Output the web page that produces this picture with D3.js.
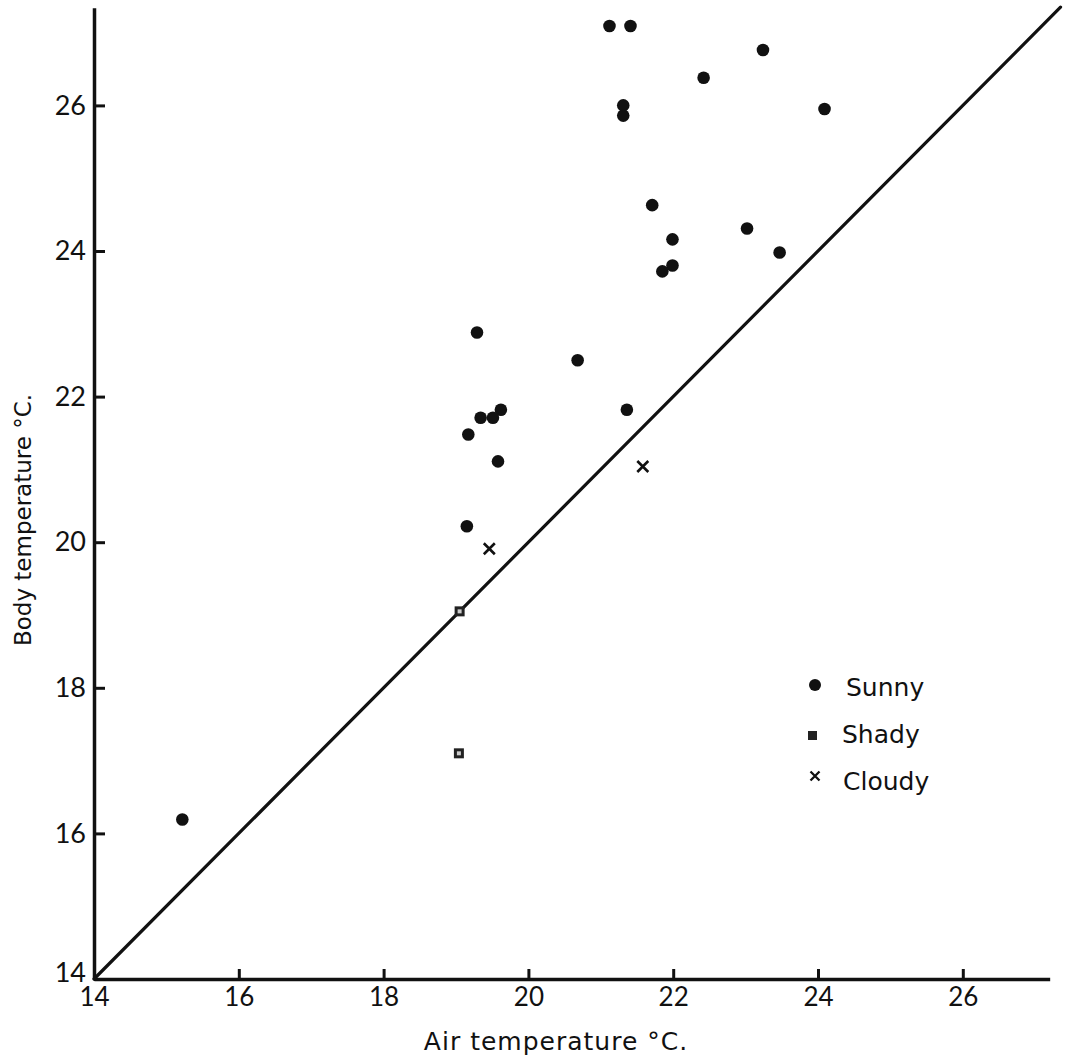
<!DOCTYPE html>
<html>
<head>
<meta charset="utf-8">
<script src="https://cdn.jsdelivr.net/npm/d3@7"></script>
<style>
  body { margin: 0; background: #fff; }
  svg text { font-family: Lato, "Noto Sans", sans-serif; fill: #111; }
  svg text.title { font-family: "DejaVu Sans", sans-serif; }
  .axis path, .axis line { stroke: #111; }
</style>
</head>
<body>
<div id="chart"></div>
<script>
// readings (air temp, body temp) per weather condition
const sunnyAir  = [21.12, 21.41, 22.42, 23.24, 21.31, 21.31, 24.09, 21.71, 21.99, 21.99, 21.85, 23.02, 23.47, 19.29, 20.68, 19.62, 19.51, 19.34, 21.36, 19.17, 19.58, 19.15, 15.22];
const sunnyBody = [27.09, 27.09, 26.38, 26.76, 26.00, 25.86, 25.95, 24.63, 24.16, 23.80, 23.72, 24.31, 23.98, 22.88, 22.50, 21.82, 21.71, 21.71, 21.82, 21.48, 21.11, 20.22, 16.19];
const shadyAir  = [19.05, 19.04];
const shadyBody = [19.05, 17.10];
const cloudyAir  = [19.46, 21.58];
const cloudyBody = [19.91, 21.04];

const xTicks = [14, 16, 18, 20, 22, 24, 26];
const yTicks = [14, 16, 18, 20, 22, 24, 26];
const equalLine = [14, 27.35];
const legendLabels = ["Sunny", "Shady", "Cloudy"];

const width = 1071, height = 1060;

const svg = d3.select("#chart")
    .append("svg")
    .attr("width", width)
    .attr("height", height);

const x = d3.scaleLinear()
    .domain([14, 27.2])
    .range([94, 94 + 13.2 * 72.4]);

const y = d3.scaleLinear()
    .domain([14, 27.34])
    .range([979, 979 - 13.34 * 72.8]);

// axes, ticks point inward
svg.append("g")
    .attr("class", "axis")
    .attr("transform", "translate(0," + y(14) + ")")
    .call(d3.axisBottom(x)
        .tickValues(xTicks)
        .tickSizeInner(-10)
        .tickSizeOuter(0)
        .tickPadding(9)
        .tickFormat(d3.format("d")))
    .call(g => g.select(".domain").attr("stroke-width", 3.5))
    .call(g => g.selectAll(".tick line").attr("stroke-width", 3))
    .call(g => g.selectAll(".tick text").attr("font-size", 26).attr("fill", "#111"));

svg.append("g")
    .attr("class", "axis")
    .attr("transform", "translate(" + x(14) + ",0)")
    .call(d3.axisLeft(y)
        .tickValues(yTicks)
        .tickSizeInner(-11)
        .tickSizeOuter(0)
        .tickPadding(8)
        .tickFormat(d3.format("d")))
    .call(g => g.select(".domain").attr("stroke-width", 3.5))
    .call(g => g.selectAll(".tick line").attr("stroke-width", 3))
    .call(g => g.selectAll(".tick text").attr("font-size", 27).attr("fill", "#111"))
    .call(g => g.selectAll(".tick").filter(d => d === 14).select("text").attr("dy", "0.1em"));

// axis titles
svg.append("text")
    .attr("class", "title")
    .attr("x", 556)
    .attr("y", 1050)
    .attr("text-anchor", "middle")
    .attr("font-size", 25)
    .attr("letter-spacing", 1)
    .text("Air temperature \u00B0C.");

svg.append("text")
    .attr("class", "title")
    .attr("transform", "translate(31,520) rotate(-90)")
    .attr("text-anchor", "middle")
    .attr("font-size", 23)
    .text("Body temperature \u00B0C.");

// line of equality
svg.append("line")
    .attr("x1", x(equalLine[0]))
    .attr("y1", y(equalLine[0]))
    .attr("x2", x(equalLine[1]))
    .attr("y2", y(equalLine[1]))
    .attr("stroke", "#111")
    .attr("stroke-width", 3.2)
    .attr("stroke-linecap", "round");

const sunny = sunnyAir.map((d, i) => ({ air: d, body: sunnyBody[i] }));
const shady = shadyAir.map((d, i) => ({ air: d, body: shadyBody[i] }));
const cloudy = cloudyAir.map((d, i) => ({ air: d, body: cloudyBody[i] }));

svg.append("g")
    .selectAll("circle")
    .data(sunny)
    .enter()
    .append("circle")
    .attr("cx", d => x(d.air))
    .attr("cy", d => y(d.body))
    .attr("r", 6.3)
    .attr("fill", "#111");

const shadyG = svg.append("g")
    .selectAll("g")
    .data(shady)
    .enter()
    .append("g")
    .attr("transform", d => "translate(" + x(d.air) + "," + y(d.body) + ")");
shadyG.append("rect")
    .attr("x", -5).attr("y", -5)
    .attr("width", 10).attr("height", 10)
    .attr("fill", "#222");
shadyG.append("rect")
    .attr("x", -2).attr("y", -2)
    .attr("width", 4).attr("height", 4)
    .attr("fill", "#ccc");

const cross = (s) => "M" + (-s) + "," + (-s) + "L" + s + "," + s + "M" + (-s) + "," + s + "L" + s + "," + (-s);

svg.append("g")
    .selectAll("path")
    .data(cloudy)
    .enter()
    .append("path")
    .attr("transform", d => "translate(" + x(d.air) + "," + y(d.body) + ")")
    .attr("d", cross(5.5))
    .attr("stroke", "#111")
    .attr("stroke-width", 2.6)
    .attr("fill", "none");

// legend
const legend = svg.append("g").attr("transform", "translate(815,0)");
legend.append("circle").attr("cx", 0).attr("cy", 685).attr("r", 6).attr("fill", "#111");
legend.append("rect").attr("x", -7).attr("y", 731).attr("width", 9).attr("height", 9).attr("fill", "#222");
legend.append("path").attr("transform", "translate(0,776)").attr("d", cross(4.5))
    .attr("stroke", "#111").attr("stroke-width", 2.3);

legend.selectAll("text")
    .data(legendLabels)
    .enter()
    .append("text")
    .attr("class", "title")
    .attr("x", (d, i) => [31, 27, 28][i])
    .attr("y", (d, i) => 696 + i * 47)
    .attr("font-size", 25)
    .text(d => d);
</script>
</body>
</html>
